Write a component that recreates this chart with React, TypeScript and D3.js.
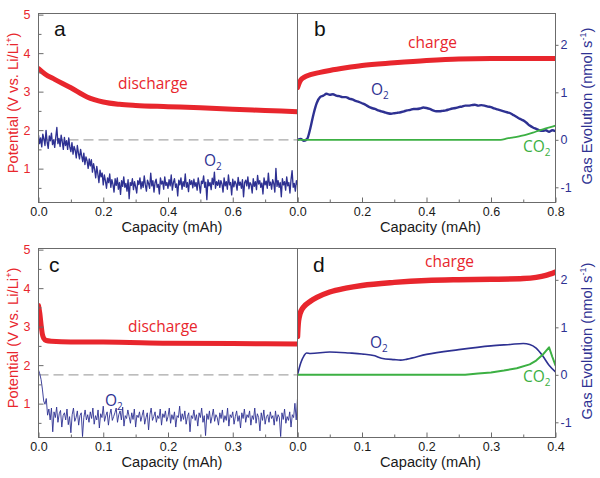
import React, { useRef, useEffect } from "react";
import * as d3 from "d3";

// ---- panel a: discharge, O2 consumption, 0 - 0.8 mAh ----
const dischargeACap = [0, 0.02, 0.05, 0.1, 0.15, 0.2, 0.25, 0.3, 0.4, 0.5, 0.6, 0.7, 0.8];
const dischargeAV = [3.6, 3.46, 3.32, 3.1, 2.86, 2.73, 2.67, 2.64, 2.61, 2.58, 2.54, 2.51, 2.48];
const o2AStep = 0.8 / 240;
const o2A = [
  0.1, -0.08, 0.04, -0.15, 0.12, 0.02, -0.12, 0.2, -0.05, -0.18, 0.08, -0.02, 0.14, -0.1, 0.0, -0.16, 0.06, 0.26, -0.08, 0.03, -0.14, 0.1, -0.04, -0.2,
  0.05, -0.12, -0.02, -0.2, 0.04, -0.15, -0.25, -0.06, -0.3, -0.14, -0.22, -0.38, -0.12, -0.28, -0.4, -0.2, -0.34, -0.46, -0.28, -0.52, -0.36, -0.44, -0.6, -0.4,
  -0.55, -0.42, -0.68, -0.5, -0.62, -0.8, -0.56, -0.72, -0.9, -0.64, -0.78, -0.7, -0.95, -0.74, -0.86, -1.02, -0.8, -0.9, -0.72, -1.0, -0.84, -0.94, -1.1, -0.82,
  -0.96, -0.8, -1.04, -0.9, -1.15, -0.86, -0.98, -0.78, -1.0, -0.92, -1.08, -0.84, -1.24, -0.9, -0.96, -0.82, -1.05, -0.88, -0.99, -1.12, -0.86, -0.94, -0.8, -1.03,
  -0.88, -1.0, -0.76, -0.95, -1.08, -0.85, -0.92, -1.02, -0.7, -0.97, -0.86, -1.1, -0.9, -0.83, -1.0, -0.94, -1.14, -0.8, -0.93, -0.87, -1.04, -0.78, -0.96, -0.9,
  -1.02, -0.84, -0.97, -0.74, -1.06, -0.9, -0.82, -1.0, -0.93, -1.18, -0.85, -0.95, -0.8, -1.04, -0.88, -0.98, -0.72, -1.0, -0.9, -1.09, -0.84, -0.94, -0.86, -1.01,
  -0.83, -0.98, -0.9, -1.06, -0.8, -0.95, -1.12, -0.87, -0.92, -0.76, -1.0, -0.89, -1.26, -0.84, -0.97, -0.9, -1.05, -0.81, -0.94, -0.68, -1.02, -0.88, -0.96, -0.85,
  -1.0, -0.86, -0.93, -1.1, -0.8, -0.97, -0.88, -1.04, -0.74, -0.95, -0.9, -1.16, -0.83, -0.99, -0.87, -0.92, -1.06, -0.79, -0.96, -0.89, -1.02, -0.84, -1.2, -0.9,
  -0.85, -0.97, -0.78, -1.03, -0.9, -0.94, -1.12, -0.82, -0.98, -0.88, -1.05, -0.75, -0.93, -0.86, -1.0, -0.91, -1.14, -0.8, -0.95, -0.87, -1.02, -0.7, -0.96, -0.89,
  -1.04, -0.84, -0.92, -1.1, -0.6, -0.98, -0.86, -1.0, -0.9, -1.2, -0.82, -0.95, -0.88, -1.06, -0.78, -0.97, -0.9, -1.12, -0.84, -0.65, -1.0, -0.92, -1.08, -0.86,
  -0.94,
];

// ---- panel b: charge, O2 / CO2 evolution, 0 - 0.8 mAh ----
const chargeBCap = [0, 0.005, 0.01, 0.02, 0.04, 0.07, 0.1, 0.15, 0.2, 0.3, 0.4, 0.5, 0.6, 0.7, 0.8];
const chargeBV = [3.1, 3.22, 3.3, 3.37, 3.44, 3.5, 3.55, 3.62, 3.68, 3.75, 3.81, 3.85, 3.86, 3.86, 3.86];
const o2BStep = 0.01;
const o2B = [
  0.0, 0.02, -0.02, 0.02, 0.25, 0.55, 0.78, 0.9, 0.93, 0.97,
  0.95, 0.96, 0.93, 0.92, 0.9, 0.9, 0.87, 0.85, 0.82, 0.8,
  0.77, 0.74, 0.7, 0.67, 0.65, 0.62, 0.6, 0.58, 0.56, 0.55,
  0.56, 0.57, 0.58, 0.6, 0.62, 0.63, 0.65, 0.65, 0.66, 0.68,
  0.67, 0.65, 0.62, 0.6, 0.6, 0.61, 0.62, 0.64, 0.66, 0.67,
  0.69, 0.7, 0.72, 0.72, 0.73, 0.74, 0.72, 0.73, 0.72, 0.7,
  0.69, 0.66, 0.64, 0.62, 0.6, 0.58, 0.56, 0.52, 0.48, 0.44,
  0.41, 0.36, 0.3, 0.26, 0.23, 0.2, 0.19, 0.2, 0.17, 0.2, 0.18,
];
const co2BCap = [0, 0.63, 0.65, 0.67, 0.69, 0.71, 0.73, 0.75, 0.77, 0.79, 0.8];
const co2B = [0, 0, 0.03, 0.05, 0.08, 0.11, 0.15, 0.2, 0.24, 0.28, 0.3];

// ---- panel c: discharge, O2 consumption, 0 - 0.4 mAh ----
const dischargeCCap = [0, 0.002, 0.004, 0.006, 0.008, 0.012, 0.02, 0.05, 0.1, 0.2, 0.3, 0.4];
const dischargeCV = [3.55, 3.35, 3.05, 2.8, 2.7, 2.64, 2.62, 2.6, 2.6, 2.57, 2.56, 2.55];
const o2CStep = 0.002;
const o2C = [
  0.1, 0.02, -0.1, -0.3, -0.55, -0.62, -0.5, -0.85, -0.72, -0.95, -0.7, -1.2, -0.78, -0.9, -0.68, -1.0, -0.82, -0.75, -1.1, -0.86,
  -0.8, -0.95, -0.72, -1.05, -0.88, -1.22, -0.84, -0.7, -0.98, -0.9, -0.76, -1.06, -0.86, -0.8, -1.3, -0.9, -0.74, -0.95, -0.84, -1.0,
  -0.78, -0.92, -0.7, -1.04, -0.86, -0.95, -0.74, -1.12, -0.82, -0.9, -0.66, -0.98, -0.86, -0.78, -1.06, -0.84, -0.72, -0.96, -0.88, -0.8,
  -0.7, -1.0, -0.84, -0.76, -0.95, -0.68, -1.08, -0.86, -0.92, -0.74, -0.88, -1.02, -0.8, -0.94, -0.72, -1.1, -0.85, -0.9, -0.78, -0.98,
  -0.86, -0.74, -1.04, -0.9, -0.8, -1.16, -0.84, -0.7, -0.96, -0.88, -0.78, -1.0, -0.86, -0.92, -0.72, -1.06, -0.82, -0.9, -0.76, -0.98,
  -0.88, -0.7, -1.02, -0.84, -0.94, -0.78, -1.1, -0.86, -0.9, -0.66, -0.98, -0.82, -0.94, -0.76, -1.04, -0.88, -0.8, -1.2, -0.86, -0.92,
  -0.74, -0.96, -0.84, -1.08, -0.8, -0.9, -0.7, -1.0, -0.86, -1.28, -0.82, -0.94, -0.76, -1.02, -0.88, -0.72, -0.98, -0.84, -0.9, -1.06,
  -0.8, -0.92, -0.74, -1.0, -0.86, -0.96, -0.7, -1.08, -0.84, -0.9, -0.78, -1.04, -0.88, -0.76, -0.98, -0.86, -1.12, -0.8, -0.92, -0.72,
  -1.0, -0.84, -0.9, -0.76, -1.06, -0.86, -0.94, -0.7, -1.02, -0.82, -0.9, -1.18, -0.8, -0.96, -0.74, -1.04, -0.88, -0.84, -1.0, -0.78,
  -0.92, -0.86, -1.06, -0.76, -0.98, -0.84, -0.9, -1.3, -0.8, -0.94, -0.72, -1.02, -0.88, -0.96, -0.78, -1.1, -0.84, -0.9, -0.6, -0.95,
  -0.5,
];

// ---- panel d: charge, O2 / CO2 evolution, 0 - 0.4 mAh ----
const chargeDCap = [0, 0.001, 0.003, 0.006, 0.01, 0.02, 0.03, 0.05, 0.075, 0.1, 0.15, 0.2, 0.25, 0.3, 0.35, 0.37, 0.385, 0.4];
const chargeDV = [2.75, 3.05, 3.28, 3.42, 3.52, 3.66, 3.76, 3.9, 4.0, 4.07, 4.15, 4.2, 4.22, 4.23, 4.25, 4.28, 4.33, 4.42];
const o2DCap = [0, 0.005, 0.01, 0.014, 0.02, 0.05, 0.08, 0.1, 0.12, 0.13, 0.15, 0.16, 0.17, 0.2, 0.25, 0.3, 0.33, 0.35, 0.36, 0.37, 0.38, 0.39, 0.4];
const o2D = [0, 0.25, 0.4, 0.46, 0.45, 0.48, 0.46, 0.44, 0.4, 0.35, 0.32, 0.31, 0.33, 0.43, 0.53, 0.61, 0.64, 0.66, 0.64, 0.56, 0.4, 0.2, 0.06];
const co2DCap = [0, 0.26, 0.28, 0.3, 0.32, 0.34, 0.36, 0.37, 0.38, 0.39, 0.395, 0.4];
const co2D = [0, 0, 0.03, 0.05, 0.09, 0.14, 0.22, 0.3, 0.42, 0.58, 0.38, 0.2];

// axis ticks
const potTicks = [1, 2, 3, 4, 5];
const potMinor = [0.5, 1.5, 2.5, 3.5, 4.5];
const gasTicks = [-1, 0, 1, 2];
const capTicksLong = [0, 0.2, 0.4, 0.6, 0.8];
const capMinorLong = [0.1, 0.3, 0.5, 0.7];
const capTicksShort = [0, 0.1, 0.2, 0.3, 0.4];
const capMinorShort = [0.05, 0.15, 0.25, 0.35];

const RED = "#e8262d";
const NAVY = "#2e3192";
const GREEN = "#3cb043";
const AXIS = "#6b6b6b";
const SANS = "'Liberation Sans', Arial, sans-serif";
const LABEL = "'Open Sans', sans-serif";

const stepCaps = (vals, step) => vals.map((_, i) => i * step);

function fitWidth(sel, target) {
  const len = sel.node().getComputedTextLength();
  if (len > 0) sel.attr("font-size", +sel.attr("font-size") * target / len);
}

const App = () => {
  const svgRef = useRef();

  function subText(g, x, y, main, sub, color) {
    const t = g.append("text")
      .attr("x", x).attr("y", y)
      .attr("fill", color)
      .attr("font-family", LABEL)
      .attr("font-size", 15.5);
    t.append("tspan").text(main);
    if (sub) t.append("tspan").attr("font-size", 10).attr("dy", 4).text(sub);
  }

  function drawPanel(svg, p) {
    const [x0, x1] = p.cols;
    const [y0, y1] = p.rows;
    const xScale = d3.scaleLinear().domain([0, p.xMax]).range([x0, x1]);
    const pot = d3.scaleLinear().domain([0.12, 5.03]).range([y1, y0]);
    const gas = d3.scaleLinear().domain([-1.32, 2.66]).range([y1, y0]);

    const g = svg.append("g");
    g.append("clipPath").attr("id", "clip-" + p.id)
      .append("rect").attr("x", x0).attr("y", y0).attr("width", x1 - x0).attr("height", y1 - y0);

    const plot = g.append("g").attr("clip-path", "url(#clip-" + p.id + ")");

    if (p.dashed) {
      plot.append("line")
        .attr("x1", x0).attr("x2", x1)
        .attr("y1", gas(0)).attr("y2", gas(0))
        .attr("stroke", "#a8a8a8").attr("stroke-width", 1.2)
        .attr("stroke-dasharray", "10,5");
    }

    p.series.forEach(s => {
      const sc = s.axis === "pot" ? pot : gas;
      const line = d3.line()
        .x(d => xScale(d[0]))
        .y(d => sc(d[1]))
        .curve(s.smooth ? d3.curveMonotoneX : d3.curveLinear);
      plot.append("path")
        .datum(d3.zip(s.cap, s.val))
        .attr("d", line)
        .attr("fill", "none")
        .attr("stroke", s.color)
        .attr("stroke-width", s.width)
        .attr("stroke-linejoin", "round")
        .attr("stroke-linecap", "round");
    });

    // frame
    g.append("rect")
      .attr("x", x0).attr("y", y0).attr("width", x1 - x0).attr("height", y1 - y0)
      .attr("fill", "none").attr("stroke", AXIS).attr("stroke-width", 1);

    // x axis (ticks point inward)
    const xAxis = g.append("g").attr("transform", "translate(0," + y1 + ")")
      .call(d3.axisBottom(xScale).tickValues(p.xTicks).tickSizeInner(-5).tickSizeOuter(0).tickPadding(5)
        .tickFormat(d => (p.skipLast && d === p.xMax) ? "" : d3.format(".1f")(d)));
    g.append("g").attr("transform", "translate(0," + y1 + ")")
      .call(d3.axisBottom(xScale).tickValues(p.xMinor).tickSize(-3).tickFormat(() => ""))
      .call(a => a.select(".domain").remove())
      .selectAll("line").attr("stroke", AXIS);
    xAxis.select(".domain").remove();
    xAxis.selectAll("line").attr("stroke", AXIS);
    xAxis.selectAll("text").attr("font-family", SANS).attr("font-size", 12.5).attr("fill", "#1a1a1a");

    const xt = g.append("text")
      .attr("x", (x0 + x1) / 2 + 4).attr("y", y1 + 29.5)
      .attr("text-anchor", "middle")
      .attr("font-family", SANS).attr("font-size", 14.5).attr("fill", "#1a1a1a")
      .text("Capacity (mAh)");
    fitWidth(xt, 101);

    if (p.side === "left") {
      const yAxis = g.append("g").attr("transform", "translate(" + x0 + ",0)")
        .call(d3.axisLeft(pot).tickValues(potTicks).tickSizeInner(-5).tickSizeOuter(0).tickPadding(8)
          .tickFormat(d => String(d)));
      yAxis.select(".domain").remove();
      yAxis.selectAll("line").attr("stroke", AXIS);
      yAxis.selectAll("text").attr("font-family", SANS).attr("font-size", 12.5).attr("fill", RED);
      g.append("g").attr("transform", "translate(" + x0 + ",0)")
        .call(d3.axisLeft(pot).tickValues(potMinor).tickSize(-3).tickFormat(() => ""))
        .call(a => a.select(".domain").remove())
        .selectAll("line").attr("stroke", AXIS);

      const t = g.append("text")
        .attr("transform", "translate(18," + ((y0 + y1) / 2 - 5) + ") rotate(-90)")
        .attr("text-anchor", "middle")
        .attr("font-family", SANS).attr("font-size", 14.5).attr("fill", RED);
      t.append("tspan").text("Potential (V vs. Li/Li");
      t.append("tspan").attr("font-size", 9).attr("dy", -6).text("+");
      t.append("tspan").attr("dy", 6).text(")");
      fitWidth(t, 141);
    } else {
      const yAxis = g.append("g").attr("transform", "translate(" + x1 + ",0)")
        .call(d3.axisRight(gas).tickValues(gasTicks).tickSizeInner(3).tickSizeOuter(0).tickPadding(2)
          .tickFormat(d => String(d)));
      yAxis.select(".domain").remove();
      yAxis.selectAll("line").attr("stroke", AXIS);
      yAxis.selectAll("text").attr("font-family", SANS).attr("font-size", 12.5).attr("fill", NAVY);

      const t = g.append("text")
        .attr("transform", "translate(592," + ((y0 + y1) / 2 - 2) + ") rotate(-90)")
        .attr("text-anchor", "middle")
        .attr("font-family", SANS).attr("font-size", 14.5).attr("fill", NAVY);
      t.append("tspan").text("Gas Evolution (nmol s");
      t.append("tspan").attr("font-size", 9).attr("dy", -6).text("-1");
      t.append("tspan").attr("dy", 6).text(")");
      fitWidth(t, 157);
    }

    g.append("text")
      .attr("x", p.letter[1]).attr("y", p.letter[2])
      .attr("font-family", SANS).attr("font-size", 21).attr("fill", "#111")
      .text(p.letter[0]);

    p.labels.forEach(l => subText(g, l.x, l.y, l.text, l.sub, l.color));
  }

  useEffect(() => {
    const svg = d3.select(svgRef.current);
    svg.selectAll("*").remove();
    svg.append("rect").attr("width", 600).attr("height", 478).attr("fill", "#fff");

    const colL = [38.5, 297.5];
    const colR = [297.5, 555.5];
    const rowT = [13.5, 202.5];
    const rowB = [248.5, 437.5];

    drawPanel(svg, {
      id: "a", cols: colL, rows: rowT, xMax: 0.8, xTicks: capTicksLong, xMinor: capMinorLong,
      side: "left", dashed: true, skipLast: true, letter: ["a", 54, 36],
      series: [
        { cap: stepCaps(o2A, o2AStep), val: o2A, axis: "gas", color: NAVY, width: 1.35 },
        { cap: dischargeACap, val: dischargeAV, axis: "pot", color: RED, width: 5, smooth: true },
      ],
      labels: [
        { x: 118, y: 89, text: "discharge", color: RED },
        { x: 204, y: 166, text: "O", sub: "2", color: NAVY },
      ],
    });
    drawPanel(svg, {
      id: "b", cols: colR, rows: rowT, xMax: 0.8, xTicks: capTicksLong, xMinor: capMinorLong,
      side: "right", dashed: false, skipLast: false, letter: ["b", 314, 36],
      series: [
        { cap: stepCaps(o2B, o2BStep), val: o2B, axis: "gas", color: NAVY, width: 2.4, smooth: true },
        { cap: co2BCap, val: co2B, axis: "gas", color: GREEN, width: 1.8, smooth: true },
        { cap: chargeBCap, val: chargeBV, axis: "pot", color: RED, width: 5, smooth: true },
      ],
      labels: [
        { x: 408, y: 48, text: "charge", color: RED },
        { x: 371, y: 95, text: "O", sub: "2", color: NAVY },
        { x: 523, y: 152, text: "CO", sub: "2", color: GREEN },
      ],
    });
    drawPanel(svg, {
      id: "c", cols: colL, rows: rowB, xMax: 0.4, xTicks: capTicksShort, xMinor: capMinorShort,
      side: "left", dashed: true, skipLast: true, letter: ["c", 49, 272],
      series: [
        { cap: stepCaps(o2C, o2CStep), val: o2C, axis: "gas", color: NAVY, width: 0.9 },
        { cap: dischargeCCap, val: dischargeCV, axis: "pot", color: RED, width: 5, smooth: true },
      ],
      labels: [
        { x: 128, y: 332, text: "discharge", color: RED },
        { x: 105, y: 406, text: "O", sub: "2", color: NAVY },
      ],
    });
    drawPanel(svg, {
      id: "d", cols: colR, rows: rowB, xMax: 0.4, xTicks: capTicksShort, xMinor: capMinorShort,
      side: "right", dashed: false, skipLast: false, letter: ["d", 313, 272],
      series: [
        { cap: o2DCap, val: o2D, axis: "gas", color: NAVY, width: 1.6, smooth: true },
        { cap: co2DCap, val: co2D, axis: "gas", color: GREEN, width: 2 },
        { cap: chargeDCap, val: chargeDV, axis: "pot", color: RED, width: 5.5, smooth: true },
      ],
      labels: [
        { x: 425, y: 267, text: "charge", color: RED },
        { x: 370, y: 348, text: "O", sub: "2", color: NAVY },
        { x: 523, y: 382, text: "CO", sub: "2", color: GREEN },
      ],
    });
  }, []);

  return (
    <svg ref={svgRef} width={600} height={478}
      style={{ position: "absolute", left: 0, top: 0, display: "block" }}></svg>
  );
};

export default App;
